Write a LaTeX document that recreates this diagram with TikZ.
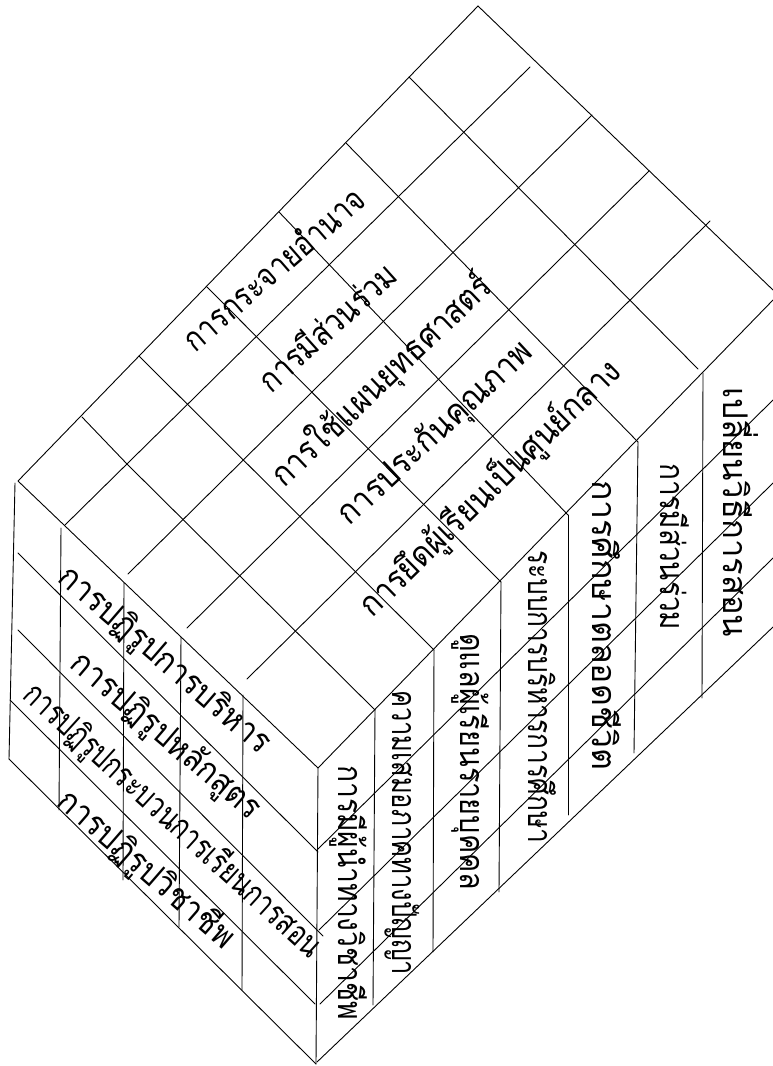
\documentclass[tikz,border=0pt]{standalone}
\usepackage{fontspec}
\usepackage{graphicx}
\newfontfamily\thaifont[Script=Thai]{Loma}
\newcommand{\fitlen}[2]{\resizebox{#1pt}{\height}{#2}}
\tikzset{
  gridline/.style={line width=0.9pt,line cap=round,line join=round},
  thailabel/.style={font=\thaifont\fontsize{34}{36}\selectfont,inner sep=0pt,text=black},
  collabel/.style={thailabel,rotate=-90,anchor=base west}
}
\begin{document}
\begin{tikzpicture}[x=1pt,y=-1pt]
\useasboundingbox (0,0) rectangle (773,1066);
\path[fill=white] (0,0) rectangle (773,1066);
% top face
\draw[gridline] (478,6) -- (18,481) -- (318,768) -- (773,300);
\draw[gridline] (478,6) -- (773,290);
\draw[gridline] (65,525) -- (530,67);
\draw[gridline] (128,574) -- (592,115);
\draw[gridline] (187,628) -- (649,171);
\draw[gridline] (247,679) -- (710,221);
\draw[gridline] (82,417) -- (127,464) -- (375,710);
\draw[gridline] (139,356) -- (434,650);
\draw[gridline] (207,287) -- (501,582);
\draw[gridline] (279,212) -- (568,515);
\draw[gridline] (346,143) -- (638,442);
\draw[gridline] (409,77) -- (698,369);
% left face
\draw[gridline] (18,553) -- (318,852);
\draw[gridline] (18,630) -- (323,936);
\draw[gridline] (10,700) -- (315,1004);
\draw[gridline] (9,759) -- (316,1064);
\draw[gridline] (15,483) -- (9,759);
\draw[gridline] (61,528) -- (59,810);
\draw[gridline] (124,583) -- (123,880);
\draw[gridline] (181,637) -- (179,927);
\draw[gridline] (243,695) -- (242,990);
\draw[gridline] (318,768) -- (316,1064);
% right face
\draw[gridline] (317,850) -- (773,400);
\draw[gridline] (319,930) -- (773,483);
\draw[gridline] (320,1004) -- (773,558);
\draw[gridline] (317,1062) -- (773,627);
\draw[gridline] (375,710) -- (373,1005);
\draw[gridline] (434,650) -- (433,952);
\draw[gridline] (501,582) -- (499,892);
\draw[gridline] (568,515) -- (568,815);
\draw[gridline] (638,442) -- (634,753);
\draw[gridline] (703,373) -- (702,698);
% top labels
\node[thailabel,rotate=41] (t1) at (273,268) {\fitlen{228}{การกระจายอำนาจ}};
\node[thailabel,rotate=42] (t2) at (326,326) {\fitlen{173}{การมีส่วนร่วม}};
\node[thailabel,rotate=43.6] (t3) at (382,381) {\fitlen{290}{การใช้แผนยุทธศาสตร์}};
\node[thailabel,rotate=43] (t4) at (436,434) {\fitlen{253}{การประกันคุณภาพ}};
\node[thailabel,rotate=44.4] (t5) at (490,488) {\fitlen{350}{การยึดผู้เรียนเป็นศูนย์กลาง}};
% left labels
\node[thailabel,rotate=-40.8] (l1) at (164,661) {\fitlen{268}{การปฏิรูปการบริหาร}};
\node[thailabel,rotate=-40.4] (l2) at (165,737) {\fitlen{238}{การปฏิรูปหลักสูตร}};
\node[thailabel,rotate=-42.3] (l3) at (172,821) {\fitlen{390}{การปฏิรูปกระบวนการเรียนการสอน}};
\node[thailabel,rotate=-41] (l4) at (146,870) {\fitlen{222}{การปฏิรูปวิชาชีพ}};
% right labels
\node[collabel] (c1) at (338,765) {\fitlen{255}{การมีผู้นำทางวิชาชีพ}};
\node[collabel] (c2) at (392,690) {\fitlen{285}{ความเสมอภาคทางปัญญา}};
\node[collabel] (c3) at (460,633) {\fitlen{257}{ดูแลผู้เรียนรายบุคคล}};
\node[collabel] (c4) at (528,550) {\fitlen{293}{ระบบการบริหารการศึกษา}};
\node[collabel] (c5) at (592,480) {\fitlen{290}{การศึกษาตลอดชีวิต}};
\node[collabel] (c6) at (660,463) {\fitlen{167}{การมีส่วนร่วม}};
\node[collabel] (c7) at (723,387) {\fitlen{250}{เปลี่ยนวิธีการสอน}};
\end{tikzpicture}
\end{document}
